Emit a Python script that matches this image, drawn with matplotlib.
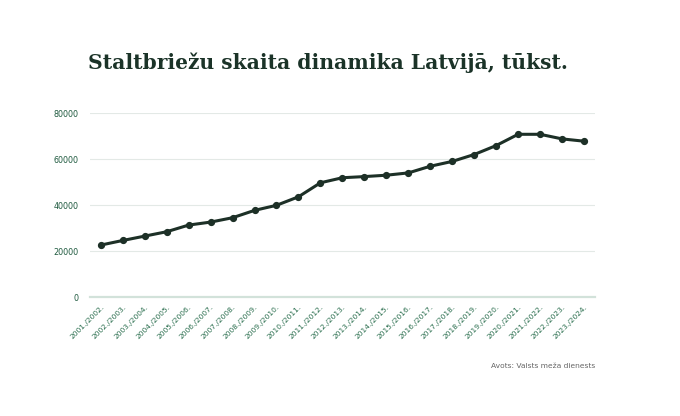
import matplotlib
matplotlib.use("Agg")
import matplotlib.pyplot as plt

# staltbrieži, skaits pa gadiem
seasons = ["2001./2002.", "2002./2003.", "2003./2004.", "2004./2005.", "2005./2006.",
           "2006./2007.", "2007./2008.", "2008./2009.", "2009./2010.", "2010./2011.",
           "2011./2012.", "2012./2013.", "2013./2014.", "2014./2015.", "2015./2016.",
           "2016./2017.", "2017./2018.", "2018./2019.", "2019./2020.", "2020./2021.",
           "2021./2022.", "2022./2023.", "2023./2024."]
counts = [22600, 24600, 26500, 28400, 31300, 32600, 34500, 37700, 39900, 43600,
          49700, 51900, 52400, 53000, 54000, 56900, 59000, 62000, 65900, 70800,
          70800, 68800, 67800]
yticks = [0, 20000, 40000, 60000, 80000]

fig = plt.figure(figsize=(6.8, 4.16), dpi=100)
ax = fig.add_axes([0.132, 0.286, 0.743, 0.442])

x = range(len(seasons))
ax.plot(x, counts, color="#1d3027", linewidth=2.2, marker="o", markersize=4.2)

ax.set_xlim(-0.5, len(seasons) - 0.5)
ax.set_ylim(0, 80000)
ax.set_yticks(yticks)
ax.set_yticklabels([str(v) for v in yticks], fontsize=5.8, color="#1f5a3f")
ax.set_xticks(list(x))
ax.set_xticklabels(seasons, rotation=45, ha="right", rotation_mode="anchor",
                   fontsize=5.4, color="#2a6e4e")
ax.tick_params(axis="both", length=0, pad=8)
ax.tick_params(axis="x", pad=5)

ax.grid(axis="y", color="#e3e9e6", linewidth=0.8)
ax.set_axisbelow(True)
for s in ["top", "right", "left"]:
    ax.spines[s].set_visible(False)
ax.spines["bottom"].set_color("#d2e2da")
ax.spines["bottom"].set_linewidth(1.6)

fig.text(0.129, 0.85, "Staltbriežu skaita dinamika Latvijā, tūkst.",
         fontsize=14.6, fontweight="bold", family="DejaVu Serif", color="#1b3328",
         va="center", ha="left")
fig.text(0.876, 0.12, "Avots: Valsts meža dienests", fontsize=5.4, color="#666666",
         ha="right", va="center")

fig.savefig("out.png", dpi=100, facecolor="white")
